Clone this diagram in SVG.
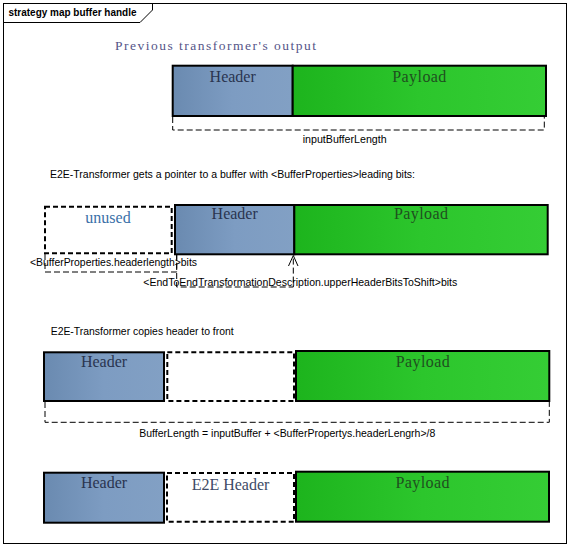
<svg xmlns="http://www.w3.org/2000/svg" width="574" height="547" viewBox="0 0 574 547">
<defs>
<linearGradient id="gH" x1="0" y1="0" x2="1" y2="0"><stop offset="0" stop-color="#6a8ab0"/><stop offset="0.5" stop-color="#7d9cc2"/><stop offset="1" stop-color="#82a0c4"/></linearGradient>
<linearGradient id="gP" x1="0" y1="0" x2="1" y2="0"><stop offset="0" stop-color="#1db41d"/><stop offset="0.5" stop-color="#2cc62c"/><stop offset="1" stop-color="#35cd35"/></linearGradient>
<style>
.hdr{fill:url(#gH);stroke:#000;stroke-width:2}
.pay{fill:url(#gP);stroke:#000;stroke-width:2}
.dsh{fill:#fff;stroke:#000;stroke-width:2;stroke-dasharray:5,3}
.dim{fill:none;stroke:#000;stroke-width:1;stroke-dasharray:6,3}
.arr{fill:none;stroke:#000;stroke-width:1}
.ser{font-family:"Liberation Serif",serif;font-size:16px;text-anchor:middle}
.th{fill:#2a3550}
.tp{fill:#1f4f1f}
.sans{font-family:"Liberation Sans",Arial,sans-serif;font-size:11px;fill:#000}
</style>
</defs>
<rect x="0" y="0" width="574" height="547" fill="#fff"/>
<g id="frame">
<rect x="3.5" y="3.5" width="563" height="540" fill="none" stroke="#000" stroke-width="1"/>
<path d="M3.5,22.5 H140 L152.5,10 V3.5" fill="none" stroke="#000" stroke-width="1"/>
<text x="8.5" y="16" font-family="Liberation Sans,Arial,sans-serif" font-size="11" font-weight="bold" textLength="128" lengthAdjust="spacingAndGlyphs">strategy map buffer handle</text>
</g>
<text x="115" y="50" font-family="Liberation Serif,serif" font-size="13.5" fill="#555588" textLength="201" lengthAdjust="spacing">Previous transformer's output</text>
<g id="row1-header"><rect class="hdr" x="172.7" y="65.7" width="120" height="50.3"/><text class="ser th" x="232.7" y="81.7">Header</text></g>
<g id="row1-payload"><rect class="pay" x="292.7" y="65.7" width="253.3" height="50.3"/><text class="ser tp" x="419.3" y="81.7" textLength="54" lengthAdjust="spacing">Payload</text></g>
<text class="sans" x="302.7" y="143.3" textLength="84" lengthAdjust="spacingAndGlyphs">inputBufferLength</text>
<text class="sans" x="50" y="178.3" textLength="365" lengthAdjust="spacingAndGlyphs">E2E-Transformer gets a pointer to a buffer with &lt;BufferProperties&gt;leading bits:</text>
<g id="row2-unused"><rect class="dsh" x="45" y="206.7" width="126.7" height="46.6"/><text class="ser" x="108" y="223.3" fill="#3a70a8">unused</text></g>
<g id="row2-header"><rect class="hdr" x="175" y="205" width="119.3" height="49.3"/><text class="ser th" x="234.7" y="219.3">Header</text></g>
<g id="row2-payload"><rect class="pay" x="294.3" y="205" width="253.4" height="49.3"/><text class="ser tp" x="421" y="219.3" textLength="54" lengthAdjust="spacing">Payload</text></g>
<text class="sans" x="30" y="266" textLength="167" lengthAdjust="spacingAndGlyphs">&lt;BufferProperties.headerlength&gt;bits</text>
<text class="sans" x="143.3" y="285.7" textLength="314" lengthAdjust="spacingAndGlyphs">&lt;EndToEndTransformationDescription.upperHeaderBitsToShift&gt;bits</text>
<text class="sans" x="50.7" y="335" textLength="183" lengthAdjust="spacingAndGlyphs">E2E-Transformer copies header to front</text>
<g id="row3-header"><rect class="hdr" x="44" y="352.3" width="120" height="48.7"/><text class="ser th" x="104" y="367.3">Header</text></g>
<g id="row3-gap"><rect class="dsh" x="167.3" y="352.3" width="126.7" height="48.7"/></g>
<g id="row3-payload"><rect class="pay" x="296" y="351" width="253.3" height="50"/><text class="ser tp" x="422.7" y="366.7" textLength="54" lengthAdjust="spacing">Payload</text></g>
<text class="sans" x="139.3" y="437.3" textLength="296" lengthAdjust="spacingAndGlyphs">BufferLength = inputBuffer + &lt;BufferPropertys.headerLengrh&gt;/8</text>
<g id="row4-header"><rect class="hdr" x="44" y="472.7" width="120" height="50"/><text class="ser th" x="104" y="488">Header</text></g>
<g id="row4-e2e"><rect class="dsh" x="167" y="473" width="127" height="48.7"/><text class="ser" x="230.5" y="490" fill="#3d4a66">E2E Header</text></g>
<g id="row4-payload"><rect class="pay" x="296" y="471.7" width="253" height="50"/><text class="ser tp" x="422.5" y="487.7" textLength="54" lengthAdjust="spacing">Payload</text></g>
<g id="connectors">
<path class="dim" d="M172.7,117 V130 H544.3 V117"/>
<path class="dim" d="M45,254 V272 H176.7 V254"/>
<path class="dim" d="M176.7,255 V287 H293.3 V256"/>
<path class="arr" d="M288.5,266 L293.3,255.5 L298,266"/>
<path class="dim" d="M45,402 V422.3 H549.3 V402"/>
</g>
</svg>
